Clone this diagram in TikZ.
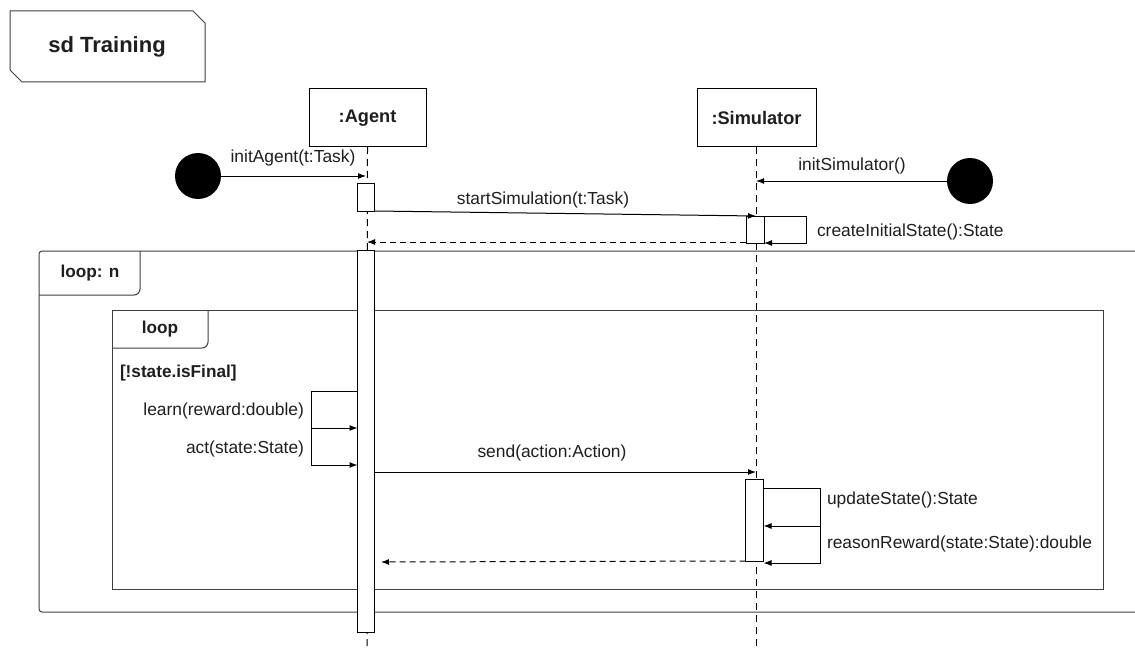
\documentclass[tikz,border=0pt]{standalone}
\usepackage{fontspec}
\setmainfont{Liberation Sans}
\usetikzlibrary{arrows.meta,calc}

\begin{document}
\begin{tikzpicture}[x=1pt,y=-1pt, line width=1pt,
  every node/.style={inner sep=0pt, outer sep=0pt, text=black!88},
  lbl/.style={font=\fontsize{17.4}{20}\selectfont},
  boldlbl/.style={font=\fontsize{17.2}{20}\selectfont\bfseries},
  head/.style={draw, fill=white, minimum height=58pt, font=\fontsize{18.2}{21}\selectfont\bfseries},
  actbar/.style={draw, fill=white, minimum width=17pt},
  startdot/.style={circle, fill=black, minimum size=46pt},
  msg/.style={-{Latex[length=8pt,width=6pt]}},
  reply/.style={msg, dash pattern=on 6pt off 4pt},
  lifeline/.style={dash pattern=on 7pt off 5pt},
  frameline/.style={draw=black!75},
]
\useasboundingbox (0,0) rectangle (1135,650);
\fill[white] (0,0) rectangle (1135,650);

% diagram frame with its name
\draw[frameline] (10,11) -- (193,11) -- (205,23) -- (205,82) -- (22,82) -- (10,70) -- cycle;
\node[font=\fontsize{22}{26}\selectfont\bfseries] (title) at (107,47) {sd Training};

% outer loop fragment (runs past the right edge)
\draw[frameline, rounded corners=3pt] (1135,251) -- (39,251) -- (39,612) -- (1135,612);
\draw[frameline, rounded corners=6pt] (140,251) -- (140,295) -- (39,295);
\node[boldlbl] (loopn) at (90,273) {loop: n};

% inner loop fragment
\draw[frameline] (112,310) rectangle (1103,589);
\draw[frameline, rounded corners=6pt] (208,310) -- (208,348) -- (112,348);
\node[boldlbl] (loopi) at (160,329) {loop};
\node[boldlbl, anchor=west] (guard) at (120,373) {[!state.isFinal]};

% lifeline heads and lifelines
\node[head, minimum width=117pt] (agent) at (367.5,118) {:Agent};
\node[head, minimum width=119pt] (sim) at (756.5,118) {:Simulator};
\coordinate (agentEnd) at (367,650);
\coordinate (simEnd) at (756.5,650);
\draw[lifeline] (agent.south) -- (agentEnd);
\draw[lifeline] (sim.south) -- (simEnd);

% activation bars
\node[actbar, minimum height=28pt] (a1) at (366,197) {};
\node[actbar, minimum height=382pt] (a2) at (366,441) {};
\node[actbar, minimum height=27pt, minimum width=18pt] (s1) at (755,229.5) {};
\node[actbar, minimum height=82pt, minimum width=18pt] (s2) at (754.5,520) {};

% found messages
\node[startdot] (dotA) at (198,176) {};
\node[startdot] (dotS) at (970,181) {};
\coordinate (agentIn) at (366,176);
\coordinate (simIn) at (756,181);
\draw[msg] (dotA.east) -- (agentIn);
\node[lbl] (lInitA) at (293,158) {initAgent(t:Task)};
\draw[msg] (dotS.west) -- (simIn);
\node[lbl] (lInitS) at (852,166) {initSimulator()};

% start of the simulation
\coordinate (simStart) at (756,216);
\draw[msg] (a1.south east) -- (simStart);
\node[lbl] (lStart) at (543,200) {startSimulation(t:Task)};
\coordinate (cisR) at (806,216);
\draw[msg] (s1.north east) -- (cisR) |- (s1.south east);
\node[lbl, anchor=west] (lCis) at (817,232) {createInitialState():State};
\coordinate (agentBack1) at (367,242);
\draw[reply] (s1.south west |- 0,242) -- (agentBack1);

% agent self messages inside the loop
\coordinate (selfL1) at (311,391);
\coordinate (selfL2) at (311,428);
\coordinate (selfL3) at (311,465);
\draw (a2.west |- selfL1) -- (selfL1);
\draw[msg] (selfL1) -- (selfL2) -- (a2.west |- selfL2);
\draw[msg] (selfL2) -- (selfL3) -- (a2.west |- selfL3);
\node[lbl, anchor=east] (lLearn) at (304,411) {learn(reward:double)};
\node[lbl, anchor=east] (lAct) at (304,449) {act(state:State)};

% action sent to the simulator
\coordinate (simSend) at (756,472);
\draw[msg] (a2.east |- simSend) -- (simSend);
\node[lbl] (lSend) at (552,453) {send(action:Action)};

% simulator self messages
\coordinate (selfR1) at (820,488);
\coordinate (selfR2) at (820,526);
\coordinate (selfR3) at (820,563);
\draw (s2.east |- selfR1) -- (selfR1);
\draw[msg] (selfR1) -- (selfR2) -- (s2.east |- selfR2);
\draw[msg] (selfR2) -- (selfR3) -- (s2.east |- selfR3);
\node[lbl, anchor=west] (lUpd) at (827,500) {updateState():State};
\node[lbl, anchor=west] (lRew) at (827,544) {reasonReward(state:State):double};

% reply to the agent
\coordinate (agentBack2) at (381,562);
\draw[reply] (s2.south west) -- (agentBack2);
\end{tikzpicture}
\end{document}
